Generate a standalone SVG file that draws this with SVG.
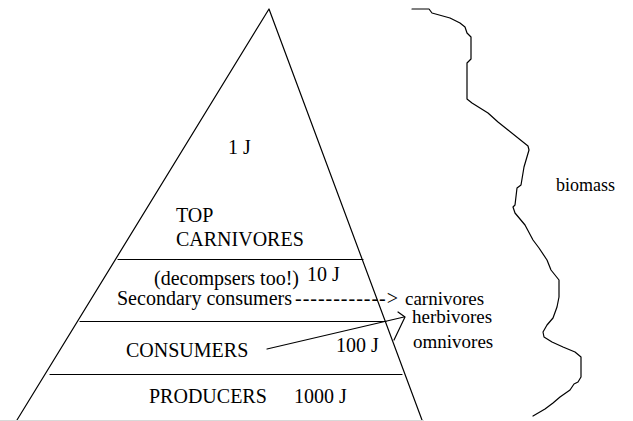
<svg xmlns="http://www.w3.org/2000/svg" width="633" height="421" viewBox="0 0 633 421">
  <style>
    .ln { fill: none; stroke: #000; stroke-width: 1.2; stroke-linejoin: round; stroke-linecap: round; }
    .tx { font-family: "Liberation Serif", "Times New Roman", serif; font-size: 20px; fill: #000; }
    .md { font-size: 19px; }
    .sm { font-size: 18px; }
  </style>
  <rect width="633" height="421" fill="#fff"/>

  <!-- pyramid outline -->
  <g id="pyramid">
    <polyline class="ln" points="17,420 269,9 422,420"/>
    <line x1="0" y1="420.5" x2="424" y2="420.5" stroke="#d8d8d8" stroke-width="1"/>
  </g>

  <!-- top tier -->
  <g id="top-carnivores">
    <line class="ln" x1="118" y1="259.5" x2="363" y2="259.5"/>
    <text class="tx" x="228" y="154">1 J</text>
    <text class="tx" x="176" y="222">TOP</text>
    <text class="tx" x="176" y="246">CARNIVORES</text>
  </g>

  <!-- secondary consumers tier -->
  <g id="secondary-consumers">
    <line class="ln" x1="80" y1="321.5" x2="386" y2="321.5"/>
    <text class="tx" x="154" y="285">(decompsers too!)</text>
    <text class="tx" x="307" y="281">10 J</text>
    <text class="tx" x="117" y="305">Secondary consumers</text>
  </g>

  <!-- consumers tier -->
  <g id="consumers">
    <line class="ln" x1="50" y1="374.5" x2="402" y2="374.5"/>
    <text class="tx" x="126" y="357">CONSUMERS</text>
    <text class="tx" x="336" y="352">100 J</text>
  </g>

  <!-- producers tier -->
  <g id="producers">
    <text class="tx" x="149" y="403">PRODUCERS</text>
    <text class="tx" x="294" y="403">1000 J</text>
  </g>

  <!-- feeding-type labels -->
  <g id="feeding-types">
    <text class="tx" x="295" y="305" textLength="103" lengthAdjust="spacing">------------&gt;</text>
    <text class="tx md" x="405" y="305">carnivores</text>
    <text class="tx md" x="412" y="323">herbivores</text>
    <text class="tx md" x="413" y="348">omnivores</text>
  </g>

  <!-- arrow from consumers to herbivores / omnivores -->
  <g id="connectors">
    <line class="ln" x1="267" y1="349" x2="404" y2="317"/>
    <polyline class="ln" points="398,312 405,317 394,340"/>
  </g>

  <!-- biomass outline -->
  <g id="biomass">
    <polyline class="ln" points="412,9 429,9 432,13 450,18 460,23 465,27 467,33 471,37 471,59 467,63 467,99 472,103 488,113 498,122 508,130 528,146 529,150 524,167 521,185 517,188 515,205 513,207 515,213 525,225 533,240 539,248 547,260 551,270 559,280 559,297 557,307 553,318 547,325 543,332 544,337 552,342 563,347 575,352 581,357 581,377 578,382 574,384 570,390 560,397 553,403 545,409 533,416"/>
    <text class="tx sm" x="556" y="191">biomass</text>
  </g>
</svg>
